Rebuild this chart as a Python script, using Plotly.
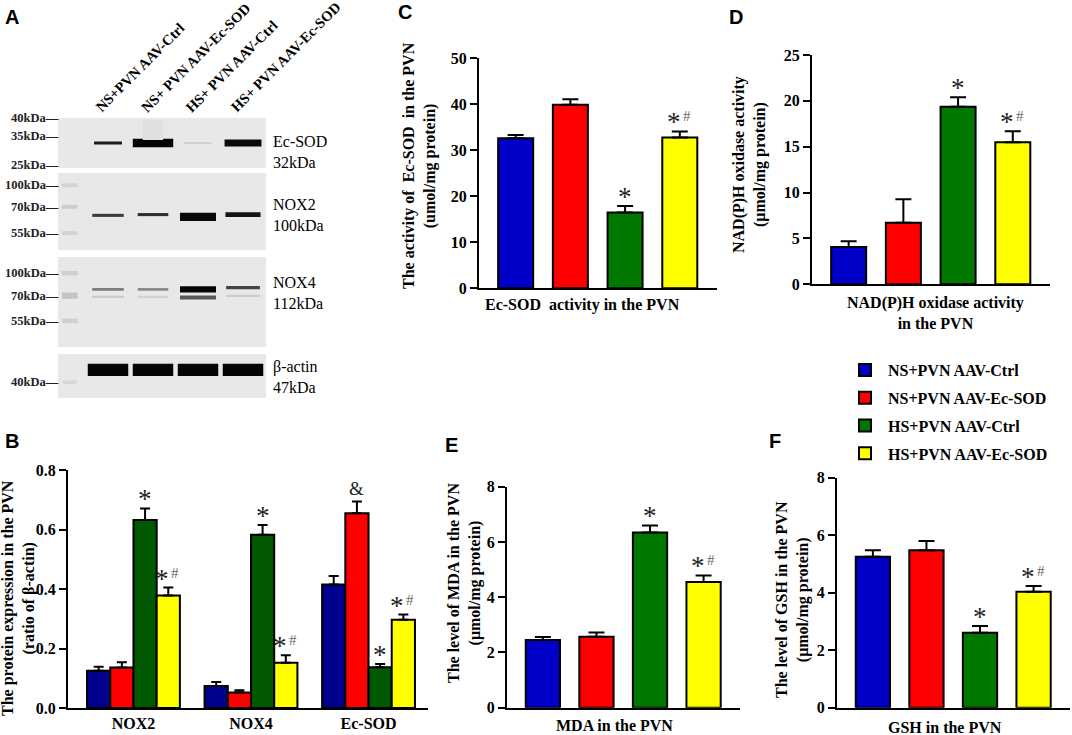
import plotly.graph_objects as go

W, H = 1072, 735

groups = ['NS+PVN AAV-Ctrl', 'NS+PVN AAV-Ec-SOD', 'HS+PVN AAV-Ctrl', 'HS+PVN AAV-Ec-SOD']
colors = ['#0000C8', '#FF0000', '#007800', '#FFFF00']
colors_b = ['#00008E', '#FF0000', '#005800', '#FFFF00']

# --- panel B: protein expression (ratio of beta-actin) ---
b_targets = ['NOX2', 'NOX4', 'Ec-SOD']
b_ns_ctrl = [0.125, 0.074, 0.415]
b_ns_ecsod = [0.136, 0.052, 0.655]
b_hs_ctrl = [0.632, 0.582, 0.137]
b_hs_ecsod = [0.378, 0.152, 0.297]
b_ns_ctrl_err = [0.014, 0.013, 0.029]
b_ns_ecsod_err = [0.018, 0.008, 0.039]
b_hs_ctrl_err = [0.039, 0.033, 0.011]
b_hs_ecsod_err = [0.027, 0.025, 0.017]
b_ns_ctrl_mark = ['', '', '']
b_ns_ecsod_mark = ['', '', '&']
b_hs_ctrl_mark = ['*', '*', '*']
b_hs_ecsod_mark = ['*#', '*#', '*#']

# --- panels C-F ---
c_mean = [32.6, 39.9, 16.5, 32.8]
c_err = [0.7, 1.2, 1.4, 1.3]
c_mark = ['', '', '*', '*#']

d_mean = [4.07, 6.72, 19.37, 15.48]
d_err = [0.62, 2.55, 1.03, 1.22]
d_mark = ['', '', '*', '*#']

e_mean = [2.45, 2.57, 6.34, 4.55]
e_err = [0.11, 0.15, 0.26, 0.24]
e_mark = ['', '', '*', '*#']

f_mean = [5.25, 5.48, 2.61, 4.03]
f_err = [0.23, 0.32, 0.23, 0.20]
f_mark = ['', '', '*', '*#']

# --- panel A: western blot strips (lane 0 = ladder) ---
ecsod_lane = [1, 2, 3, 4, 2]
ecsod_y = [0.50, 0.50, 0.50, 0.50, 0.76]
ecsod_h = [0.06, 0.17, 0.04, 0.14, 0.40]
ecsod_w = [0.62, 0.90, 0.60, 0.82, 0.45]
ecsod_shade = ['#1c1c1c', '#050505', '#cfcfcf', '#0a0a0a', '#e0e0e0']

nox2_lane = [1, 2, 3, 4, 0.15, 0.15, 0.15]
nox2_y = [0.45, 0.46, 0.43, 0.46, 0.84, 0.56, 0.22]
nox2_h = [0.04, 0.04, 0.11, 0.06, 0.05, 0.05, 0.05]
nox2_w = [0.70, 0.68, 0.80, 0.78, 0.35, 0.35, 0.35]
nox2_shade = ['#3a3a3a', '#2e2e2e', '#080808', '#141414', '#d2d2d2', '#cdcdcd', '#d4d4d4']

nox4_lane = [1, 2, 3, 4, 1, 2, 3, 4, 0.15, 0.15, 0.15]
nox4_y = [0.64, 0.64, 0.64, 0.66, 0.56, 0.56, 0.55, 0.57, 0.82, 0.57, 0.29]
nox4_h = [0.03, 0.03, 0.07, 0.035, 0.02, 0.02, 0.045, 0.02, 0.05, 0.07, 0.05]
nox4_w = [0.70, 0.68, 0.80, 0.75, 0.70, 0.68, 0.80, 0.75, 0.35, 0.35, 0.35]
nox4_shade = ['#7a7a7a', '#8a8a8a', '#050505', '#444444', '#cccccc', '#d2d2d2',
              '#585858', '#cdcdcd', '#d0d0d0', '#c4c4c4', '#d0d0d0']

actin_lane = [1, 2, 3, 4, 0.15]
actin_y = [0.64, 0.64, 0.64, 0.64, 0.36]
actin_h = [0.28, 0.28, 0.28, 0.28, 0.08]
actin_w = [0.90, 0.90, 0.90, 0.90, 0.30]
actin_shade = ['#050505', '#050505', '#050505', '#050505', '#d6d6d6']

ecsod_ladder = ['40kDa', '35kDa', '25kDa']
ecsod_ladder_y = [1.0, 0.64, 0.06]
nox2_ladder = ['100kDa', '70kDa', '55kDa']
nox2_ladder_y = [0.84, 0.56, 0.22]
nox4_ladder = ['100kDa', '70kDa', '55kDa']
nox4_ladder_y = [0.82, 0.57, 0.29]
actin_ladder = ['40kDa']
actin_ladder_y = [0.36]

lane_labels = ['NS+PVN AAV-Ctrl', 'NS+ PVN AAV-Ec-SOD', 'HS+ PVN AAV-Ctrl', 'HS+ PVN AAV-Ec-SOD']

SERIF = 'Liberation Serif'
SANS = 'Liberation Sans'


def px(x):
    return x / W


def py(y):
    return 1 - y / H


fig = go.Figure()
annotations = []
shapes = []


def add_mark(m, x, y, xref, yref):
    # significance symbols: black asterisk, grey hash, black ampersand
    if m.startswith('*'):
        annotations.append(dict(
            x=x, y=y, xref=xref, yref=yref, text='*', showarrow=False,
            yanchor='middle', yshift=9, xshift=-6 if '#' in m else 0,
            font=dict(family=SERIF, size=27, color='#222222')))
    if '#' in m:
        annotations.append(dict(
            x=x, y=y, xref=xref, yref=yref, text='#', showarrow=False,
            yanchor='middle', yshift=15, xshift=7,
            font=dict(family=SERIF, size=15, color='#666666')))
    if m == '&':
        annotations.append(dict(
            x=x, y=y, xref=xref, yref=yref, text='&', showarrow=False,
            yanchor='middle', yshift=13,
            font=dict(family=SERIF, size=19, color='#222222')))


# panel B grouped bars
b_means = [b_ns_ctrl, b_ns_ecsod, b_hs_ctrl, b_hs_ecsod]
b_errs = [b_ns_ctrl_err, b_ns_ecsod_err, b_hs_ctrl_err, b_hs_ecsod_err]
b_marks = [b_ns_ctrl_mark, b_ns_ecsod_mark, b_hs_ctrl_mark, b_hs_ecsod_mark]
bargap_b = 0.21
slot = (1 - bargap_b) / 4

for i, g in enumerate(groups):
    fig.add_trace(go.Bar(
        x=b_targets, y=b_means[i], name=g, marker_color=colors_b[i],
        marker_line=dict(color='black', width=2),
        error_y=dict(type='data', array=b_errs[i], arrayminus=[0] * 3, symmetric=False,
                     color='black', thickness=2, width=5),
        xaxis='x', yaxis='y', showlegend=False, hoverinfo='skip'))
    off = -(1 - bargap_b) / 2 + (i + 0.5) * slot
    for j in range(3):
        if b_marks[i][j]:
            add_mark(b_marks[i][j], j + off, b_means[i][j] + b_errs[i][j], 'x', 'y')

# panels C-F
panels = [
    ('2', c_mean, c_err, c_mark),
    ('3', d_mean, d_err, d_mark),
    ('4', e_mean, e_err, e_mark),
    ('5', f_mean, f_err, f_mark),
]
for k, (ax, mean, err, marks) in enumerate(panels):
    for i, g in enumerate(groups):
        fig.add_trace(go.Bar(
            x=[g], y=[mean[i]], name=g, marker_color=colors[i], width=0.64, offsetgroup='a',
            marker_line=dict(color='black', width=2),
            error_y=dict(type='data', array=[err[i]], arrayminus=[0], symmetric=False,
                         color='black', thickness=2, width=8),
            xaxis='x' + ax, yaxis='y' + ax, showlegend=(k == 0), legendgroup=g,
            hoverinfo='skip'))
        if marks[i]:
            add_mark(marks[i], i, mean[i] + err[i], 'x' + ax, 'y' + ax)

# panel A blot strips
strips = [
    ('6', ecsod_lane, ecsod_y, ecsod_h, ecsod_w, ecsod_shade, ecsod_ladder, ecsod_ladder_y),
    ('7', nox2_lane, nox2_y, nox2_h, nox2_w, nox2_shade, nox2_ladder, nox2_ladder_y),
    ('8', nox4_lane, nox4_y, nox4_h, nox4_w, nox4_shade, nox4_ladder, nox4_ladder_y),
    ('9', actin_lane, actin_y, actin_h, actin_w, actin_shade, actin_ladder, actin_ladder_y),
]
for ax, lane, yc, hh, ww, shade, ladder, ladder_y in strips:
    shapes.append(dict(type='rect', xref='x%s domain' % ax, yref='y%s domain' % ax,
                       x0=0, x1=1, y0=0, y1=1, fillcolor='#e8e8e8', line_width=0, layer='below'))
    fig.add_trace(go.Bar(
        x=lane, y=hh, base=[c - h / 2 for c, h in zip(yc, hh)], width=ww,
        marker=dict(color=shade, line_width=0), offsetgroup='blot',
        xaxis='x' + ax, yaxis='y' + ax, showlegend=False, hoverinfo='skip'))
    for lab, ly in zip(ladder, ladder_y):
        annotations.append(dict(
            x=0, y=ly, xref='x%s domain' % ax, yref='y' + ax, text=lab + '—',
            xanchor='right', yanchor='middle', showarrow=False, xshift=3,
            font=dict(family=SERIF, size=12.5, color='#222222', weight='bold')))

# lane labels (rotated)
for i, lab in enumerate(lane_labels):
    annotations.append(dict(
        x=i + 1 - 0.4, y=py(118), xref='x6', yref='paper', text=lab, textangle=-45,
        xanchor='left', yanchor='bottom', showarrow=False,
        font=dict(family=SERIF, size=14.5, color='black', weight='bold')))

# protein labels on the right of the blot
for txt, yy in [('Ec-SOD<br>32kDa', 152), ('NOX2<br>100kDa', 215),
                ('NOX4<br>112kDa', 293), ('β-actin<br>47kDa', 377)]:
    annotations.append(dict(
        x=px(271), y=py(yy), xref='paper', yref='paper', text=txt, align='left',
        xanchor='left', yanchor='middle', showarrow=False,
        font=dict(family=SERIF, size=16, color='black')))

# panel letters
for letter, lx, ly in [('A', 12, 17), ('B', 12, 441), ('C', 405, 12),
                       ('D', 736, 17), ('E', 451, 445), ('F', 775, 441)]:
    annotations.append(dict(
        x=px(lx), y=py(ly), xref='paper', yref='paper', text=letter, showarrow=False,
        xanchor='center', yanchor='middle',
        font=dict(family=SANS, size=20, color='black', weight='bold')))

# axis titles
for txt, tx, ty in [
        ('The protein expression in the PVN<br>(ratio of β-actin)', 18, 598),
        ('The activity of  Ec-SOD  in the PVN<br>(umol/mg protein)', 419, 166),
        ('NAD(P)H oxidase activity<br>(μmol/mg protein)', 749, 165),
        ('The level of MDA in the PVN<br>(μmol/mg protein)', 464, 583),
        ('The level of GSH in the PVN<br>(μmol/mg protein)', 792, 600)]:
    annotations.append(dict(
        x=px(tx), y=py(ty), xref='paper', yref='paper', text=txt, textangle=-90,
        showarrow=False, xanchor='center', yanchor='middle',
        font=dict(family=SERIF, size=16, color='black', weight='bold')))

for txt, tx, ty in [
        ('Ec-SOD  activity in the PVN', 582, 305),
        ('NAD(P)H oxidase activity<br>in the PVN', 935, 313),
        ('MDA in the PVN', 614, 725),
        ('GSH in the PVN', 945, 727)]:
    annotations.append(dict(
        x=px(tx), y=py(ty), xref='paper', yref='paper', text=txt,
        showarrow=False, xanchor='center', yanchor='middle',
        font=dict(family=SERIF, size=16, color='black', weight='bold')))

tick_font = dict(family=SERIF, size=16, color='black', weight='bold')
yax_common = dict(showline=True, linecolor='black', linewidth=2, ticks='outside', ticklen=7,
                  tickwidth=2, tickcolor='black', showgrid=False, zeroline=False,
                  tickfont=tick_font, automargin=False)
xax_common = dict(showline=True, linecolor='black', linewidth=2, ticks='', showgrid=False,
                  zeroline=False, automargin=False)

hidden = dict(visible=False, showgrid=False, zeroline=False, automargin=False)

layout = dict(
    width=W, height=H, margin=dict(l=0, r=0, t=0, b=0, pad=0, autoexpand=False),
    paper_bgcolor='white', plot_bgcolor='white',
    barmode='group', bargap=bargap_b, bargroupgap=0,
    showlegend=True,
    legend=dict(x=px(842), y=py(353), xanchor='left', yanchor='top', itemwidth=36,
                font=dict(family=SERIF, size=16, color='black', weight='bold'),
                bgcolor='rgba(0,0,0,0)', tracegroupgap=4),
    annotations=annotations, shapes=shapes,
    # B
    xaxis=dict(domain=[px(68), px(428)], anchor='y', range=[-0.557, 2.506],
               tickfont=tick_font, **xax_common),
    yaxis=dict(domain=[py(708), py(470)], anchor='x', range=[0, 0.8], dtick=0.2,
               tickformat='.1f', **yax_common),
    # C
    xaxis2=dict(domain=[px(479), px(717)], anchor='y2', range=[-0.67, 3.68],
                showticklabels=False, **xax_common),
    yaxis2=dict(domain=[py(288.3), py(58.3)], anchor='x2', range=[0, 50], dtick=10, **yax_common),
    # D
    xaxis3=dict(domain=[px(812), px(1050)], anchor='y3', range=[-0.67, 3.68],
                showticklabels=False, **xax_common),
    yaxis3=dict(domain=[py(284.3), py(55)], anchor='x3', range=[0, 25], dtick=5, **yax_common),
    # E
    xaxis4=dict(domain=[px(507), px(740)], anchor='y4', range=[-0.67, 3.68],
                showticklabels=False, **xax_common),
    yaxis4=dict(domain=[py(707.7), py(486.7)], anchor='x4', range=[0, 8], dtick=2, **yax_common),
    # F
    xaxis5=dict(domain=[px(837), px(1070)], anchor='y5', range=[-0.67, 3.68],
                showticklabels=False, **xax_common),
    yaxis5=dict(domain=[py(707.7), py(477.7)], anchor='x5', range=[0, 8], dtick=2, **yax_common),
)

for ax, top, bottom in [('6', 118, 168), ('7', 173, 250), ('8', 257, 347), ('9', 354, 398)]:
    layout['xaxis' + ax] = dict(domain=[px(58), px(266)], anchor='y' + ax,
                                range=[-0.111, 4.511], **hidden)
    layout['yaxis' + ax] = dict(domain=[py(bottom), py(top)], anchor='x' + ax,
                                range=[0, 1], **hidden)

fig.update_layout(**layout)
# the page body has a default 8px margin; drop it so the figure fills the window
fig.write_html('out.html', config={'displayModeBar': False},
               post_script="document.body.style.margin = '0';")
